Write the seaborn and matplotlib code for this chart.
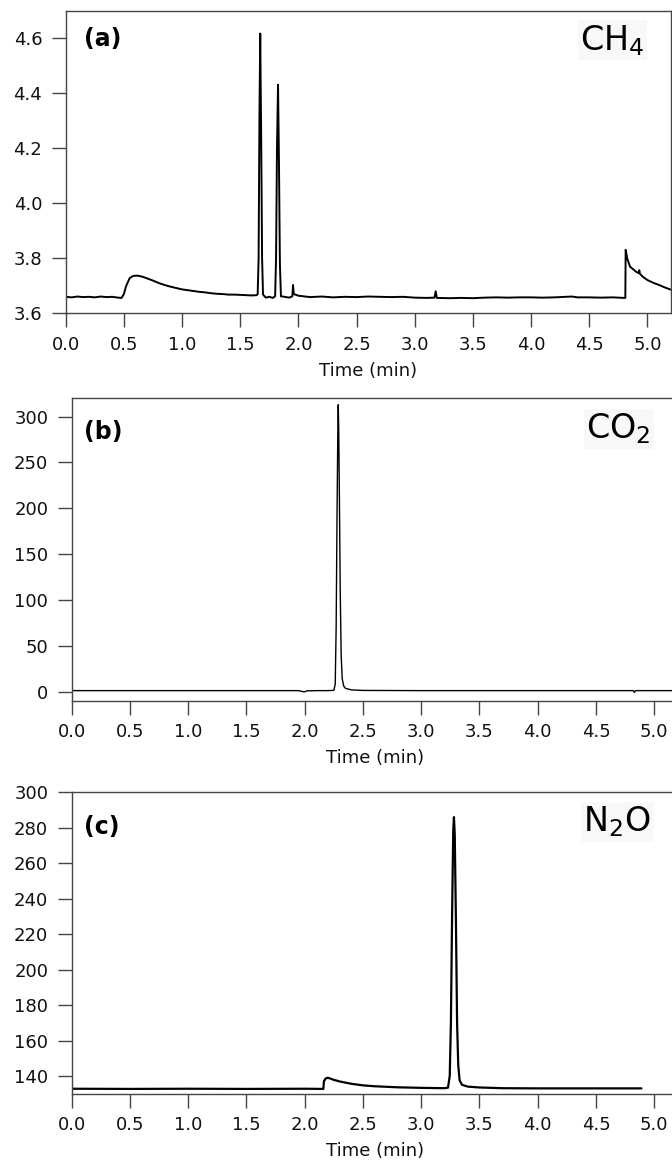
import matplotlib
matplotlib.use("Agg")
import matplotlib.pyplot as plt
import seaborn as sns

# ---------------- data ----------------
ch4_time = [0.00, 0.05, 0.10, 0.15, 0.20, 0.25, 0.30, 0.35, 0.40, 0.45, 0.48,
            0.50, 0.52, 0.55, 0.58, 0.62, 0.66, 0.70, 0.75, 0.80, 0.85, 0.90,
            0.95, 1.00, 1.05, 1.10, 1.15, 1.20, 1.25, 1.30, 1.35, 1.40, 1.45,
            1.50, 1.55, 1.60, 1.64, 1.650, 1.658, 1.665, 1.672, 1.680, 1.688,
            1.696, 1.72, 1.75, 1.78, 1.800, 1.808, 1.816, 1.825, 1.833, 1.841,
            1.850, 1.88, 1.92, 1.948, 1.954, 1.960, 1.98, 2.00, 2.10, 2.20,
            2.30, 2.40, 2.50, 2.60, 2.70, 2.80, 2.90, 3.00, 3.10, 3.17, 3.18,
            3.19, 3.30, 3.40, 3.50, 3.60, 3.70, 3.80, 3.90, 4.00, 4.10, 4.20,
            4.30, 4.35, 4.40, 4.50, 4.60, 4.70, 4.80, 4.810, 4.813, 4.826,
            4.85, 4.90, 4.925, 4.930, 4.935, 4.96, 5.00, 5.05, 5.10, 5.15, 5.20]
ch4_signal = [3.660, 3.658, 3.661, 3.659, 3.660, 3.658, 3.661, 3.659, 3.660, 3.657, 3.656,
              3.670, 3.700, 3.728, 3.736, 3.737, 3.733, 3.727, 3.719, 3.710, 3.703, 3.697,
              3.692, 3.687, 3.684, 3.681, 3.678, 3.676, 3.673, 3.671, 3.670, 3.668, 3.668,
              3.667, 3.666, 3.665, 3.666, 3.669, 3.800, 4.300, 4.618, 4.250, 3.800,
              3.668, 3.657, 3.660, 3.656, 3.662, 3.800, 4.200, 4.432, 4.150, 3.780,
              3.662, 3.660, 3.657, 3.662, 3.703, 3.670, 3.667, 3.664, 3.659, 3.661,
              3.658, 3.660, 3.659, 3.661, 3.660, 3.659, 3.660, 3.657, 3.656, 3.657, 3.680,
              3.656, 3.655, 3.656, 3.655, 3.657, 3.658, 3.657, 3.658, 3.658, 3.657, 3.658,
              3.660, 3.661, 3.658, 3.658, 3.657, 3.658, 3.656, 3.656, 3.831, 3.800,
              3.770, 3.752, 3.746, 3.757, 3.744, 3.733, 3.721, 3.711, 3.703, 3.694, 3.686]

co2_time = [0.00, 0.50, 1.00, 1.50, 1.95, 1.97, 2.00, 2.02, 2.10, 2.20, 2.25,
            2.262, 2.270, 2.278, 2.284, 2.288, 2.292, 2.298, 2.305, 2.313,
            2.322, 2.335, 2.35, 2.40, 2.50, 3.00, 3.50, 4.00, 4.50, 4.82,
            4.83, 4.84, 5.00, 5.20]
co2_signal = [1.0, 1.0, 1.0, 1.0, 1.0, 0.2, -0.3, 0.8, 1.0, 1.0, 1.3,
              8.0, 70.0, 200.0, 280.0, 313.0, 285.0, 210.0, 110.0, 40.0,
              14.0, 6.0, 3.5, 1.8, 1.2, 1.0, 1.0, 1.0, 1.0, 1.0,
              -0.8, 1.0, 1.0, 1.0]

n2o_time = [0.00, 0.50, 1.00, 1.50, 2.00, 2.160, 2.165, 2.18, 2.20, 2.25,
            2.30, 2.40, 2.50, 2.60, 2.70, 2.80, 3.00, 3.20, 3.230, 3.245,
            3.255, 3.265, 3.275, 3.281, 3.288, 3.298, 3.308, 3.318, 3.330,
            3.350, 3.40, 3.50, 3.70, 4.00, 4.50, 4.89]
n2o_signal = [132.8, 132.7, 132.8, 132.7, 132.8, 132.7, 137.0, 138.6, 139.0, 137.8,
              136.9, 135.6, 134.7, 134.2, 133.9, 133.6, 133.3, 133.1, 133.4, 140.0,
              170.0, 230.0, 278.0, 286.0, 276.0, 228.0, 170.0, 146.0, 137.5,
              135.0, 134.0, 133.5, 133.1, 133.0, 133.0, 133.0]

panel_tags = ["(a)", "(b)", "(c)"]
gas_labels = [r"CH$_4$", r"CO$_2$", r"N$_2$O"]
x_ticks = [0.0, 0.5, 1.0, 1.5, 2.0, 2.5, 3.0, 3.5, 4.0, 4.5, 5.0]
x_ticklabels = ["0.0", "0.5", "1.0", "1.5", "2.0", "2.5", "3.0", "3.5", "4.0", "4.5", "5.0"]
y_ticks = [[3.6, 3.8, 4.0, 4.2, 4.4, 4.6],
           [0, 50, 100, 150, 200, 250, 300],
           [140, 160, 180, 200, 220, 240, 260, 280, 300]]
y_ticklabels = [["3.6", "3.8", "4.0", "4.2", "4.4", "4.6"],
                ["0", "50", "100", "150", "200", "250", "300"],
                ["140", "160", "180", "200", "220", "240", "260", "280", "300"]]
y_limits = [(3.6, 4.7), (-10, 320), (130, 300)]
x_label = "Time (min)"

# ---------------- style ----------------
sns.set_theme(style="ticks")
plt.rcParams["font.family"] = ["DejaVu Sans"]
plt.rcParams["mathtext.fontset"] = "dejavusans"
spine_col = "#444444"

W, H = 672, 1169
fig = plt.figure(figsize=(W / 100, H / 100), dpi=100)

# axes rectangles in pixels: left, top, right, bottom
rects = [(65.7, 11.0, 670.7, 313.3),
         (71.7, 398.3, 677.5, 700.7),
         (71.7, 792.3, 677.5, 1093.7)]
tag_pos = [(0.0296, 0.907), (0.0196, 0.8895), (0.0196, 0.886)]
gas_pos = [(0.957, 0.871), (0.956, 0.8677), (0.956, 0.869)]
line_widths = [1.4, 1.0, 1.6]

series = [(ch4_time, ch4_signal), (co2_time, co2_signal), (n2o_time, n2o_signal)]

for i, ((l, t, r, b), (xs, ys)) in enumerate(zip(rects, series)):
    ax = fig.add_axes([l / W, 1 - b / H, (r - l) / W, (b - t) / H])
    sns.lineplot(x=xs, y=ys, ax=ax, color="black", linewidth=line_widths[i],
                 estimator=None, sort=False)
    ax.set_xlim(0, 5.2)
    ax.set_ylim(*y_limits[i])
    ax.set_xticks(x_ticks)
    ax.set_xticklabels(x_ticklabels)
    ax.set_yticks(y_ticks[i])
    ax.set_yticklabels(y_ticklabels[i])
    for s in ax.spines.values():
        s.set_visible(True)
        s.set_color(spine_col)
        s.set_linewidth(1.0)
    ax.tick_params(axis="both", direction="out", length=10.4, width=1.0,
                   color=spine_col, labelsize=13, labelcolor="#111111")
    ax.tick_params(axis="x", pad=6.0)
    ax.tick_params(axis="y", pad=6.5)
    ax.set_xlabel(x_label, fontsize=13, color="#111111", labelpad=5.5)
    ax.set_ylabel("")
    ax.grid(False)
    ax.text(tag_pos[i][0], tag_pos[i][1], panel_tags[i], transform=ax.transAxes,
            fontsize=17, fontweight="bold", ha="left", va="center", color="black")
    ax.text(gas_pos[i][0], gas_pos[i][1], gas_labels[i], transform=ax.transAxes,
            fontsize=24, ha="right", va="baseline", color="black",
            bbox=dict(facecolor="#f8f8f8", edgecolor="none", pad=2))

fig.savefig("out.png", dpi=100)
